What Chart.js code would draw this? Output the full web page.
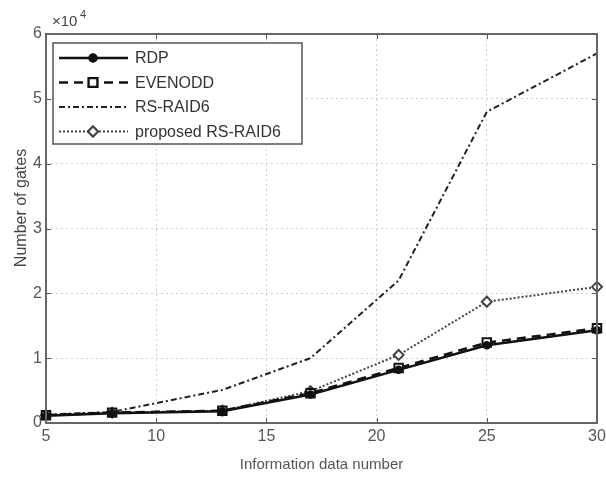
<!DOCTYPE html>
<html>
<head>
<meta charset="utf-8">
<script src="https://cdn.jsdelivr.net/npm/chart.js@4/dist/chart.umd.min.js"></script>
<style>
  html, body { margin: 0; padding: 0; background: #fff; }
  #wrap { width: 606px; height: 478px; }
</style>
</head>
<body>
<div id="wrap"><canvas id="gatesChart" width="606" height="478"></canvas></div>
<script>
// data
const dataNumbers = [5, 8, 13, 17, 21, 25, 30];
const rdpGates = [1100, 1500, 1800, 4400, 8200, 12000, 14300];
const evenoddGates = [1200, 1600, 1900, 4600, 8500, 12400, 14600];
const rsRaid6Gates = [1300, 1700, 5100, 10000, 22000, 48000, 57000];
const proposedGates = [1200, 1600, 1900, 4900, 10500, 18700, 21000];
const xTicks = [5, 10, 15, 20, 25, 30];
const yTicks = [0, 10000, 20000, 30000, 40000, 50000, 60000];
const yTitle = 'Number of gates';

const FONT = 'Liberation Sans, Arial, sans-serif';

function toPoints(values) {
    return dataNumbers.map((x, i) => ({ x: x, y: values[i] }));
}

// cadre, petits traits et légende façon MATLAB
const matlabFrame = {
    id: 'matlabFrame',
    afterDraw(chart) {
        const ctx = chart.ctx;
        const a = chart.chartArea;
        const xs = chart.scales.x;
        const ys = chart.scales.y;
        ctx.save();

        // ticks vers l'intérieur
        ctx.strokeStyle = '#555';
        ctx.lineWidth = 1;
        ctx.beginPath();
        xTicks.forEach(t => {
            const px = Math.round(xs.getPixelForValue(t)) + 0.5;
            ctx.moveTo(px, a.bottom); ctx.lineTo(px, a.bottom - 5);
            ctx.moveTo(px, a.top); ctx.lineTo(px, a.top + 5);
        });
        yTicks.forEach(t => {
            const py = Math.round(ys.getPixelForValue(t)) + 0.5;
            ctx.moveTo(a.left, py); ctx.lineTo(a.left + 5, py);
            ctx.moveTo(a.right, py); ctx.lineTo(a.right - 5, py);
        });
        ctx.stroke();

        // cadre
        ctx.strokeStyle = '#666';
        ctx.lineWidth = 2;
        ctx.strokeRect(a.left, a.top, a.right - a.left, a.bottom - a.top);

        // exposant
        ctx.fillStyle = '#444';
        ctx.textBaseline = 'alphabetic';
        ctx.textAlign = 'left';
        ctx.font = '15px ' + FONT;
        ctx.fillText('\u00d710', a.left + 6, a.top - 8);
        ctx.font = '11px ' + FONT;
        ctx.fillText('4', a.left + 34, a.top - 16);

        // titre de l'axe y
        ctx.save();
        ctx.translate(22, 208);
        ctx.rotate(-Math.PI / 2);
        ctx.textAlign = 'center';
        ctx.textBaseline = 'middle';
        ctx.fillStyle = '#444';
        ctx.font = '16px ' + FONT;
        ctx.fillText(yTitle, 0, 0);
        ctx.restore();

        // légende
        const lx = a.left + 7, ly = a.top + 9, lw = 249, lh = 101;
        ctx.fillStyle = '#fff';
        ctx.fillRect(lx, ly, lw, lh);
        ctx.strokeStyle = '#555';
        ctx.lineWidth = 1.5;
        ctx.strokeRect(lx, ly, lw, lh);
        chart.data.datasets.forEach((ds, i) => {
            const y = ly + 15 + i * 24.5;
            ctx.strokeStyle = ds.borderColor;
            ctx.lineWidth = ds.borderWidth;
            ctx.setLineDash(ds.borderDash || []);
            ctx.beginPath();
            ctx.moveTo(lx + 6, y);
            ctx.lineTo(lx + 75, y);
            ctx.stroke();
            ctx.setLineDash([]);
            if (ds.pointRadius > 0) {
                Chart.helpers.drawPoint(ctx, {
                    pointStyle: ds.pointStyle,
                    radius: ds.pointRadius,
                    rotation: 0,
                    borderWidth: ds.pointBorderWidth
                }, lx + 40, y);
                ctx.fillStyle = ds.pointBackgroundColor;
                ctx.strokeStyle = ds.borderColor;
                ctx.lineWidth = ds.pointBorderWidth;
                ctx.fill();
                ctx.stroke();
            }
            ctx.fillStyle = '#333';
            ctx.font = '16px ' + FONT;
            ctx.textBaseline = 'middle';
            ctx.fillText(ds.label, lx + 82, y + 1);
        });
        ctx.restore();
    }
};

new Chart(document.getElementById('gatesChart'), {
    type: 'line',
    data: {
        datasets: [
            {
                label: 'RDP',
                data: toPoints(rdpGates),
                borderColor: '#111',
                borderWidth: 2.5,
                pointStyle: 'circle',
                pointRadius: 3.5,
                pointBorderWidth: 1.5,
                pointBackgroundColor: '#111',
                clip: false
            },
            {
                label: 'EVENODD',
                data: toPoints(evenoddGates),
                borderColor: '#111',
                borderWidth: 2.5,
                borderDash: [9, 6],
                pointStyle: 'rect',
                pointRadius: 6,
                pointBorderWidth: 2,
                pointBackgroundColor: '#fff',
                clip: false
            },
            {
                label: 'RS-RAID6',
                data: toPoints(rsRaid6Gates),
                borderColor: '#222',
                borderWidth: 2,
                borderDash: [6, 3, 2, 3],
                pointRadius: 0,
                pointBorderWidth: 0,
                pointBackgroundColor: '#222',
                clip: false
            },
            {
                label: 'proposed RS-RAID6',
                data: toPoints(proposedGates),
                borderColor: '#444',
                borderWidth: 2,
                borderDash: [2, 2],
                pointStyle: 'rectRot',
                pointRadius: 5,
                pointBorderWidth: 2,
                pointBackgroundColor: '#fff',
                clip: false
            }
        ]
    },
    options: {
        responsive: false,
        animation: false,
        layout: { padding: { top: 34, right: 9, left: 0, bottom: 0 } },
        plugins: {
            legend: { display: false },
            tooltip: { enabled: false }
        },
        scales: {
            x: {
                type: 'linear',
                min: 5,
                max: 30,
                afterBuildTicks: s => { s.ticks = xTicks.map(v => ({ value: v })); },
                afterFit: s => { s.height = 55; s.paddingLeft = 0; s.paddingRight = 0; },
                ticks: { color: '#555', font: { family: FONT, size: 16 }, padding: 4 },
                grid: { color: '#d0d0d0', lineWidth: 1, drawTicks: false },
                border: { display: false, dash: [2, 3] },
                title: {
                    display: true,
                    text: 'Information data number',
                    color: '#555',
                    font: { family: FONT, size: 15 },
                    padding: { top: 4 }
                }
            },
            y: {
                min: 0,
                max: 60000,
                afterBuildTicks: s => { s.ticks = yTicks.map(v => ({ value: v })); },
                afterFit: s => { s.width = 46; },
                ticks: {
                    color: '#555',
                    font: { family: FONT, size: 16 },
                    padding: 4,
                    callback: v => String(v / 10000)
                },
                grid: { color: '#d0d0d0', lineWidth: 1, drawTicks: false },
                border: { display: false, dash: [2, 3] }
            }
        }
    },
    plugins: [matlabFrame]
});
</script>
</body>
</html>
